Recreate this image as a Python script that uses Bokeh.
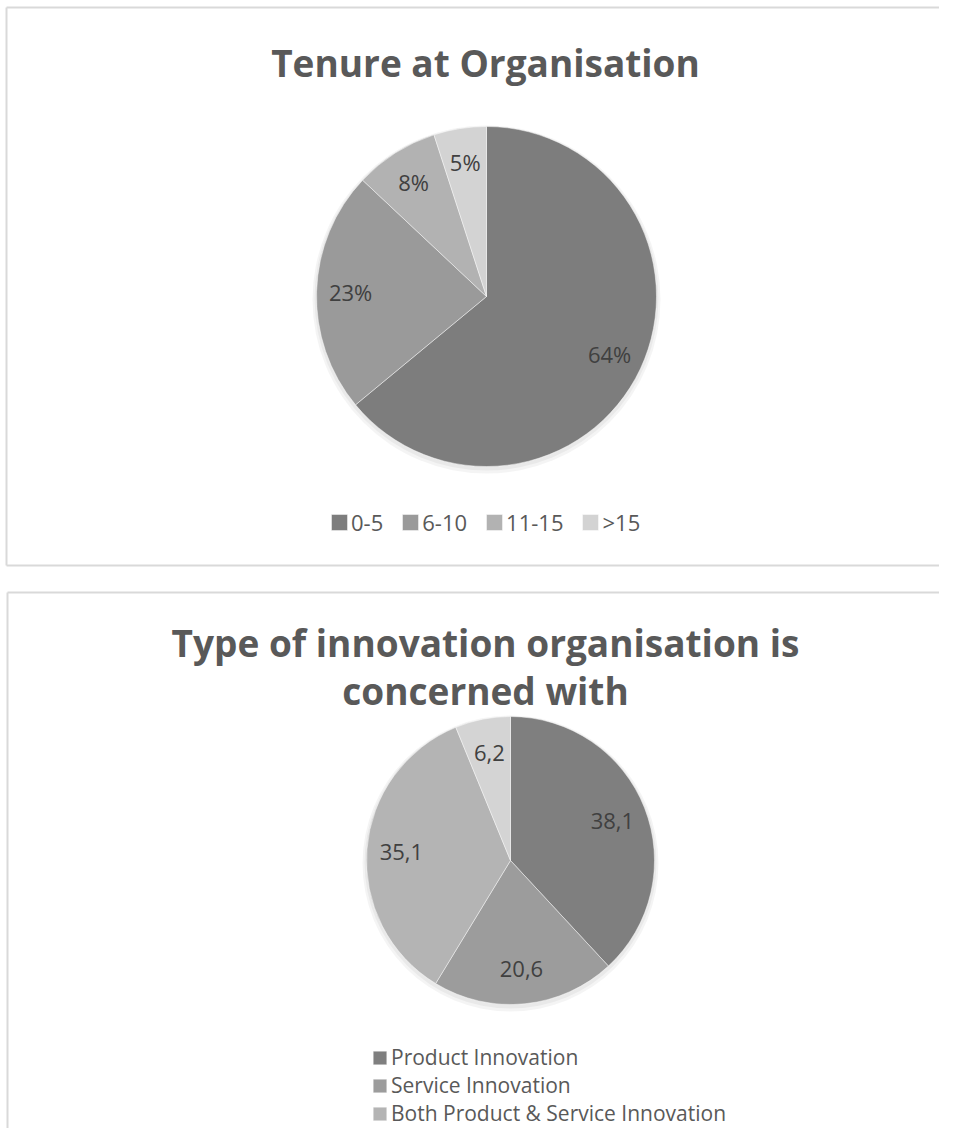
import math
from bokeh.plotting import figure
from bokeh.models import Range1d, Legend, LegendItem, ColumnDataSource
from bokeh.core.properties import value
from bokeh.embed import file_html
from bokeh.resources import INLINE

# ---------------- data ----------------
tenure_title = "Tenure at Organisation"
tenure_categories = ["0-5", "6-10", "11-15", ">15"]
tenure_values = [64, 23, 8, 5]
tenure_labels = ["64%", "23%", "8%", "5%"]

innovation_title = ["Type of innovation organisation is", "concerned with"]
innovation_categories = ["Product Innovation", "Service Innovation",
                         "Both Product & Service Innovation", ""]
innovation_values = [38.1, 20.6, 35.1, 6.2]
innovation_labels = ["38,1", "20,6", "35,1", "6,2"]
innovation_legend_shown = 3   # the 4th legend entry is cut off in the original

# ---------------- styles / layout ----------------
tenure_colors = ["#7d7d7d", "#9a9a9a", "#b2b2b2", "#d3d3d3"]
innovation_colors = ["#7f7f7f", "#9c9c9c", "#b4b4b4", "#d4d4d4"]
FONT = "Open Sans"
TITLE_COLOR = "#595959"
LABEL_COLOR = "#404040"
LEGEND_COLOR = "#595959"
BORDER_COLOR = "#d9d9d9"

W, H = 939, 1128
# data coords: x = picture x, y = H - picture y
def Y(py):
    return H - py

p = figure(width=W, height=H, output_backend="svg", toolbar_location=None,
           x_range=Range1d(0, W), y_range=Range1d(0, H),
           min_border=0, outline_line_color=None)
p.axis.visible = False
p.grid.visible = False
p.background_fill_color = "white"
p.border_fill_color = "white"

# panel borders (left, top, bottom edges; right edge is cut off in the original)
p.segment(x0=[6, 6, 6], y0=[Y(7), Y(7), Y(565)], x1=[6, 960, 960], y1=[Y(565), Y(7), Y(565)],
          line_color=BORDER_COLOR, line_width=2)
p.segment(x0=[7, 7], y0=[Y(592), Y(592)], x1=[7, 960], y1=[Y(1150), Y(592)],
          line_color=BORDER_COLOR, line_width=2)


def draw_pie(cx, cy, r, vals, colors, labels, cats, label_frac, label_size):
    total = float(sum(vals))
    starts, ends, lx, ly = [], [], [], []
    cum = 0.0
    for v in vals:
        a0 = math.pi / 2 - 2 * math.pi * cum / total
        cum += v
        a1 = math.pi / 2 - 2 * math.pi * cum / total
        starts.append(a0)
        ends.append(a1)
        mid = (a0 + a1) / 2
        lx.append(cx + label_frac * r * math.cos(mid))
        ly.append(cy + label_frac * r * math.sin(mid))
    # soft shadow
    p.circle(x=[cx, cx], y=[cy - 2, cy - 3], radius=[r + 2, r + 4],
             fill_color="black", fill_alpha=0.045, line_color=None)
    src = ColumnDataSource(dict(start=starts, end=ends, color=colors, cat=cats,
                                lx=lx, ly=ly, lab=labels))
    wr = p.wedge(x=cx, y=cy, radius=r, start_angle="start", end_angle="end",
                 direction="clock", fill_color="color", line_color="white",
                 line_alpha=0.45, line_width=1, source=src)
    p.text(x="lx", y="ly", text="lab", source=src, text_align="center",
           text_baseline="middle", text_font=value(FONT),
           text_font_size=label_size, text_color=LABEL_COLOR)
    return wr


# ---------------- chart 1 ----------------
p.text(x=[485], y=[Y(62)], text=[tenure_title], text_align="center",
       text_baseline="middle", text_font=value(FONT), text_font_style="bold",
       text_font_size="37px", text_color=TITLE_COLOR)
w1 = draw_pie(486, Y(296), 170, tenure_values, tenure_colors, tenure_labels,
              tenure_categories, 0.8, "22px")
leg1 = Legend(items=[LegendItem(label=c, renderers=[w1], index=i)
                     for i, c in enumerate(tenure_categories)],
              orientation="horizontal", location=(329, Y(537)),
              glyph_width=20, glyph_height=20, label_standoff=2, spacing=17,
              label_text_font=FONT, label_text_font_size="22px",
              label_text_color=LEGEND_COLOR, padding=0, margin=0,
              border_line_color=None, background_fill_alpha=0)
p.add_layout(leg1)

# ---------------- chart 2 ----------------
p.text(x=[485, 485], y=[Y(642), Y(690)], text=innovation_title, text_align="center",
       text_baseline="middle", text_font=value(FONT), text_font_style="bold",
       text_font_size="37px", text_color=TITLE_COLOR)
w2 = draw_pie(510, Y(860), 144, innovation_values, innovation_colors,
              innovation_labels, innovation_categories, 0.76, "22px")
leg2 = Legend(items=[LegendItem(label=innovation_categories[i], renderers=[w2], index=i)
                     for i in range(innovation_legend_shown)],
              orientation="vertical", location=(371, Y(1127)),
              glyph_width=17, glyph_height=17, label_standoff=3, spacing=0,
              label_text_font=FONT, label_text_font_size="21px",
              label_text_color=LEGEND_COLOR, padding=0, margin=0,
              border_line_color=None, background_fill_alpha=0)
p.add_layout(leg2)

open("out.html", "w").write(file_html(p, INLINE))
